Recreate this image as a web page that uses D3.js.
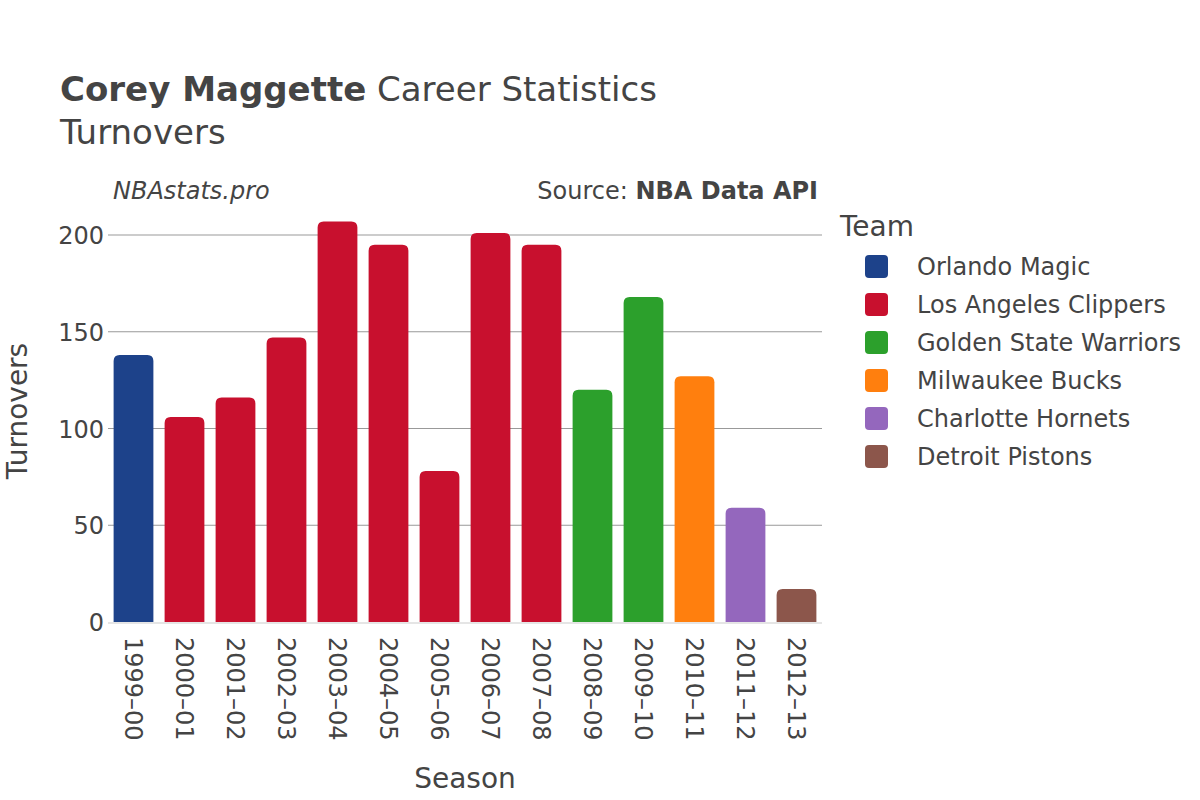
<!DOCTYPE html>
<html>
<head>
<meta charset="utf-8">
<script src="https://cdn.jsdelivr.net/npm/d3@7"></script>
<style>
  body { margin: 0; background: #fff; }
  svg { font-family: "DejaVu Sans", sans-serif; }
</style>
</head>
<body>
<svg id="chart" width="1200" height="800"></svg>
<script>
const seasons = ["1999–00","2000–01","2001–02","2002–03","2003–04","2004–05","2005–06","2006–07","2007–08","2008–09","2009–10","2010–11","2011–12","2012–13"];
const turnovers = [138,106,116,147,207,195,78,201,195,120,168,127,59,17];
const seasonTeams = ["Orlando Magic","Los Angeles Clippers","Los Angeles Clippers","Los Angeles Clippers","Los Angeles Clippers","Los Angeles Clippers","Los Angeles Clippers","Los Angeles Clippers","Los Angeles Clippers","Golden State Warriors","Golden State Warriors","Milwaukee Bucks","Charlotte Hornets","Detroit Pistons"];
const teams = ["Orlando Magic","Los Angeles Clippers","Golden State Warriors","Milwaukee Bucks","Charlotte Hornets","Detroit Pistons"];
const teamColors = ["#1d428a","#c8102e","#2ca02c","#ff7f0e","#9467bd","#8c564b"];
const yTicks = [0,50,100,150,200];

const svg = d3.select("#chart");
const margin = {left: 108, right: 822, top: 210, bottom: 622};
const x = d3.scaleBand().domain(seasons).range([margin.left, margin.right]).paddingInner(0.22).paddingOuter(0.11);
const y = d3.scaleLinear().domain([0, 215]).range([margin.bottom, margin.bottom - 215 * (387/200)]);
const color = d3.scaleOrdinal().domain(teams).range(teamColors);

// gridlines
svg.append("g").selectAll("line").data(yTicks.filter(d => d > 0)).join("line")
  .attr("x1", margin.left).attr("x2", margin.right)
  .attr("y1", d => y(d)).attr("y2", d => y(d))
  .attr("stroke", "#999").attr("stroke-width", 1);

// bars with rounded top corners
const r = 6;
function barPath(d, i) {
  const x0 = x(seasons[i]), w = x.bandwidth();
  const yt = y(d), yb = y(0);
  const rr = Math.min(r, (yb - yt) / 2, w / 2);
  return `M${x0},${yb} L${x0},${yt + rr} Q${x0},${yt} ${x0 + rr},${yt} L${x0 + w - rr},${yt} Q${x0 + w},${yt} ${x0 + w},${yt + rr} L${x0 + w},${yb} Z`;
}
svg.append("g").selectAll("path").data(turnovers).join("path")
  .attr("d", (d, i) => barPath(d, i))
  .attr("fill", (d, i) => color(seasonTeams[i]));

// zero line
svg.append("line").attr("x1", margin.left).attr("x2", margin.right)
  .attr("y1", y(0) + 1).attr("y2", y(0) + 1)
  .attr("stroke", "#e5e5e5").attr("stroke-width", 2);

// y axis
const yAxis = d3.axisLeft(y).tickValues(yTicks).tickSize(0).tickPadding(4);
const yg = svg.append("g").attr("transform", `translate(${margin.left},0)`).call(yAxis);
yg.select(".domain").remove();
yg.selectAll("text").attr("font-size", 24).attr("fill", "#444").attr("font-family", "DejaVu Sans, sans-serif").attr("dy", "0.36em");

// x axis
const xAxis = d3.axisBottom(x).tickSize(0).tickPadding(0);
const xg = svg.append("g").attr("transform", `translate(0,${y(0) + 15})`).call(xAxis);
xg.select(".domain").remove();
xg.selectAll("text")
  .attr("font-size", 24).attr("fill", "#444").attr("font-family", "DejaVu Sans, sans-serif")
  .attr("transform", "rotate(90)")
  .attr("text-anchor", "start")
  .attr("x", 0).attr("y", 0).attr("dx", 0).attr("dy", "0.36em");

// titles
const title = svg.append("text").attr("x", 60).attr("y", 101).attr("font-size", 34).attr("fill", "#444");
title.append("tspan").attr("font-weight", "bold").text("Corey Maggette");
title.append("tspan").text(" Career Statistics");
svg.append("text").attr("x", 60).attr("y", 144).attr("font-size", 34).attr("fill", "#444").text("Turnovers");

svg.append("text").attr("x", 113).attr("y", 199).attr("font-size", 24).attr("font-style", "italic").attr("fill", "#444").text("NBAstats.pro");
const src = svg.append("text").attr("x", 818).attr("y", 199).attr("font-size", 24).attr("text-anchor", "end").attr("fill", "#444");
src.append("tspan").text("Source: ");
src.append("tspan").attr("font-weight", "bold").text("NBA Data API");

// axis titles
svg.append("text").attr("transform", "translate(27,411) rotate(-90)").attr("text-anchor", "middle")
  .attr("font-size", 28).attr("fill", "#444").text("Turnovers");
svg.append("text").attr("x", 465).attr("y", 788).attr("text-anchor", "middle")
  .attr("font-size", 28).attr("fill", "#444").text("Season");

// legend
const lg = svg.append("g");
lg.append("text").attr("x", 840).attr("y", 236).attr("font-size", 28).attr("fill", "#444").text("Team");
const items = lg.selectAll("g.item").data(teams).join("g").attr("class", "item")
  .attr("transform", (d, i) => `translate(0,${266 + i * 38})`);
items.append("rect").attr("x", 865).attr("y", -11).attr("width", 23).attr("height", 23).attr("rx", 4)
  .attr("fill", d => color(d));
items.append("text").attr("x", 917).attr("y", 0).attr("dy", "0.36em").attr("font-size", 24).attr("fill", "#444").text(d => d);
</script>
</body>
</html>
